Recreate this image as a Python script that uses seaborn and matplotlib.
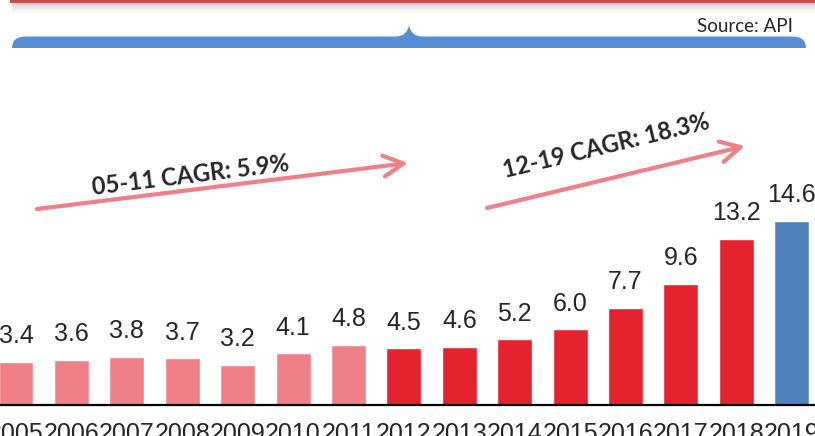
import numpy as np
import pandas as pd
import matplotlib
matplotlib.use("Agg")
import matplotlib.pyplot as plt
import seaborn as sns
from matplotlib.path import Path
from matplotlib.patches import PathPatch, Rectangle

# data
years = ["2005", "2006", "2007", "2008", "2009", "2010", "2011",
         "2012", "2013", "2014", "2015", "2016", "2017", "2018", "2019"]
values = [3.4, 3.6, 3.8, 3.7, 3.2, 4.1, 4.8,
          4.5, 4.6, 5.2, 6.0, 7.7, 9.6, 13.2, 14.6]
period = ["05-11"] * 7 + ["12-18"] * 7 + ["2019"]
cagr_labels = ["05-11 CAGR: 5.9%", "12-19 CAGR: 18.3%"]

PINK = "#F08087"
RED = "#E5232E"
BLUE = "#4F81BD"
period_colors = {"05-11": PINK, "12-18": RED, "2019": BLUE}

df = pd.DataFrame({"year": years, "value": values, "period": period})

sns.set_style("white")
plt.rcParams["font.family"] = ["Liberation Sans", "DejaVu Sans"]

fig = plt.figure(figsize=(8.15, 4.36), dpi=100)
ax = fig.add_axes([0, 31 / 436, 1, 405 / 436])

sns.barplot(data=df, x="year", y="value", hue="period", palette=period_colors,
            width=0.63, legend=False, dodge=False, ax=ax, saturation=1)

ax.set_xlim(-0.289, 14.42)
ax.set_ylim(0, 405 / 12.6)
ax.set_xlabel("")
ax.set_ylabel("")
ax.set_yticks([])
sns.despine(ax=ax, left=True, right=True, top=True)
ax.spines["bottom"].set_color("black")
ax.spines["bottom"].set_linewidth(1.6)
ax.tick_params(axis="x", length=0, pad=12.5, labelsize=18)

for i, v in enumerate(values):
    ax.annotate(f"{v:.1f}", xy=(i, v), xytext=(0, 13.5), textcoords="offset points",
                ha="center", va="baseline", fontsize=18)

# overlay in pixel units for the slide decorations
ov = fig.add_axes([0, 0, 1, 1], zorder=5)
ov.set_xlim(0, 815)
ov.set_ylim(436, 0)
ov.axis("off")
ov.patch.set_alpha(0)

# red band with shadow at the very top
for k, a in enumerate([0.35, 0.25, 0.17, 0.1, 0.05]):
    ov.add_patch(Rectangle((12, 3 + 2 * k), 803, 2, color="gray", alpha=a, lw=0))
ov.add_patch(Rectangle((10, 0), 805, 3, color="#C0504D", lw=0))

# blue brace
verts = [(12, 48), (12, 36.5), (26, 36.5), (396, 36.5), (407, 36.5), (409, 25),
         (411, 36.5), (422, 36.5), (792, 36.5), (806, 36.5), (806, 48), (12, 48)]
codes = [Path.MOVETO, Path.CURVE3, Path.CURVE3, Path.LINETO, Path.CURVE3, Path.CURVE3,
         Path.CURVE3, Path.CURVE3, Path.LINETO, Path.CURVE3, Path.CURVE3, Path.CLOSEPOLY]
ov.add_patch(PathPatch(Path(verts, codes), facecolor="#558ED5", edgecolor="none"))

ov.text(793, 32, "Source: API", ha="right", va="baseline", fontsize=13.5, family="Lato")

# CAGR arrows
arrow_kw = dict(arrowstyle="->,head_length=1.0,head_width=0.52", lw=3, color=PINK,
                mutation_scale=14.4, shrinkA=0, shrinkB=0)
ov.annotate("", xy=(408, 163), xytext=(37, 209), arrowprops=arrow_kw)
ov.annotate("", xy=(745, 146), xytext=(487, 208), arrowprops=arrow_kw)

ov.text(191, 175, cagr_labels[0], rotation=7, ha="center", va="center",
        fontsize=17, fontweight="bold", family="Lato", rotation_mode="anchor")
ov.text(606, 146, cagr_labels[1], rotation=13.5, ha="center", va="center",
        fontsize=17, fontweight="bold", family="Lato", rotation_mode="anchor")

fig.savefig("out.png", dpi=100)
